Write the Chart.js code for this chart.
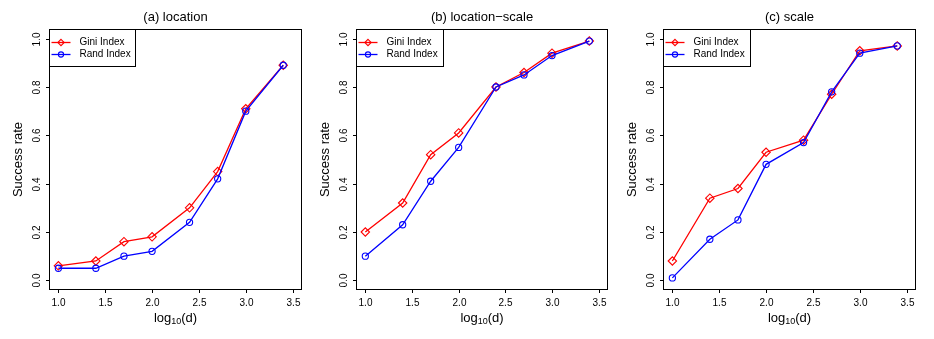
<!DOCTYPE html>
<html>
<head>
<meta charset="utf-8">
<script src="https://cdn.jsdelivr.net/npm/chart.js@4.4.1/dist/chart.umd.min.js"></script>
<style>
  html, body { margin: 0; padding: 0; background: #fff; }
  #wrap { position: relative; width: 934px; height: 339px; background: #fff; }
  canvas { position: absolute; top: 0; }
</style>
</head>
<body>
<div id="wrap">
  <canvas id="c0" width="311" height="339" style="left:0px"></canvas>
  <canvas id="c1" width="311" height="339" style="left:311px"></canvas>
  <canvas id="c2" width="312" height="339" style="left:622px"></canvas>
</div>
<script>
// ---- data ----
const xValues = [1.0, 1.4, 1.7, 2.0, 2.4, 2.7, 3.0, 3.4];
const giniLocation      = [0.06, 0.08, 0.16, 0.18, 0.30, 0.45, 0.71, 0.89];
const randLocation      = [0.05, 0.05, 0.10, 0.12, 0.24, 0.42, 0.70, 0.89];
const giniLocationScale = [0.20, 0.32, 0.52, 0.61, 0.80, 0.86, 0.94, 0.99];
const randLocationScale = [0.10, 0.23, 0.41, 0.55, 0.80, 0.85, 0.93, 0.99];
const giniScale         = [0.08, 0.34, 0.38, 0.53, 0.58, 0.77, 0.95, 0.97];
const randScale         = [0.01, 0.17, 0.25, 0.48, 0.57, 0.78, 0.94, 0.97];
const panelTitles = ['(a) location', '(b) location\u2212scale', '(c) scale'];
const seriesLabels = ['Gini Index', 'Rand Index'];
const xTickValues = [1.0, 1.5, 2.0, 2.5, 3.0, 3.5];
const yTickValues = [0.0, 0.2, 0.4, 0.6, 0.8, 1.0];
const yAxisTitle = 'Success rate';
const xAxisTitleMain = 'log';
const xAxisTitleSub = '10';
const xAxisTitleTail = '(d)';

const panelGini = [giniLocation, giniLocationScale, giniScale];
const panelRand = [randLocation, randLocationScale, randScale];

// ---- layout (pixels) ----
const FONT = '"Liberation Sans", Arial, Helvetica, sans-serif';
const canvasLefts = [0, 311, 622];
const canvasWidths = [311, 311, 312];
const boxes = [
  { left: 49, right: 302 },
  { left: 356, right: 608 },
  { left: 663, right: 916 }
];
const boxTop = 29, boxBottom = 290, H = 339;

const rPanel = {
  id: 'rPanel',
  afterDraw(chart, args, opts) {
    const ctx = chart.ctx;
    const a = chart.chartArea;
    const xs = chart.scales.x, ys = chart.scales.y;
    ctx.save();
    ctx.fillStyle = '#000';
    ctx.strokeStyle = '#000';
    ctx.lineWidth = 1;
    // box
    ctx.strokeRect(Math.round(a.left) + 0.5, Math.round(a.top) + 0.5,
                   Math.round(a.right - a.left) - 1, Math.round(a.bottom - a.top) - 1);
    // x ticks
    ctx.font = '10px ' + FONT;
    ctx.textAlign = 'center';
    ctx.textBaseline = 'middle';
    xTickValues.forEach(v => {
      const px = Math.round(xs.getPixelForValue(v)) + 0.5;
      ctx.beginPath();
      ctx.moveTo(px, a.bottom);
      ctx.lineTo(px, a.bottom + 3);
      ctx.stroke();
      ctx.fillText(v.toFixed(1), px, a.bottom + 13);
    });
    // y ticks (rotated labels)
    yTickValues.forEach(v => {
      const py = Math.round(ys.getPixelForValue(v)) + 0.5;
      ctx.beginPath();
      ctx.moveTo(a.left, py);
      ctx.lineTo(a.left - 3, py);
      ctx.stroke();
      ctx.save();
      ctx.translate(a.left - 12, py);
      ctx.rotate(-Math.PI / 2);
      ctx.fillText(v.toFixed(1), 0, 0);
      ctx.restore();
    });
    // title
    ctx.font = '13px ' + FONT;
    ctx.fillText(opts.title, (a.left + a.right) / 2, 17);
    // y axis title
    ctx.save();
    ctx.translate(a.left - 31, (a.top + a.bottom) / 2);
    ctx.rotate(-Math.PI / 2);
    ctx.fillText(yAxisTitle, 0, 0);
    ctx.restore();
    // x axis title with subscript
    const mainFont = '13px ' + FONT, subFont = '9px ' + FONT;
    ctx.font = mainFont; const w1 = ctx.measureText(xAxisTitleMain).width;
    const w3 = ctx.measureText(xAxisTitleTail).width;
    ctx.font = subFont; const w2 = ctx.measureText(xAxisTitleSub).width;
    let x0 = (a.left + a.right) / 2 - (w1 + w2 + w3) / 2;
    const yT = 318;
    ctx.textAlign = 'left';
    ctx.font = mainFont; ctx.fillText(xAxisTitleMain, x0, yT);
    ctx.font = subFont; ctx.fillText(xAxisTitleSub, x0 + w1, yT + 4);
    ctx.font = mainFont; ctx.fillText(xAxisTitleTail, x0 + w1 + w2, yT);
    // legend
    const lx = Math.round(a.left) + 0.5, ly = Math.round(a.top) + 0.5;
    const lw = opts.legendWidth, lh = 37;
    ctx.fillStyle = '#fff';
    ctx.fillRect(lx, ly, lw, lh);
    ctx.strokeStyle = '#000';
    ctx.lineWidth = 1;
    ctx.strokeRect(lx, ly, lw, lh);
    ctx.font = '10px ' + FONT;
    ctx.textBaseline = 'middle';
    const rows = [chart.data.datasets[0], chart.data.datasets[1]];
    rows.forEach((ds, i) => {
      const yy = ly + 13 + i * 12;
      ctx.strokeStyle = ds.borderColor;
      ctx.lineWidth = 1.3;
      ctx.beginPath();
      ctx.moveTo(lx + 2, yy);
      ctx.lineTo(lx + 21, yy);
      ctx.stroke();
      ctx.lineWidth = 1.1;
      ctx.beginPath();
      const mx = lx + 11.5;
      if (ds.pointStyle === 'rectRot') {
        const r = 3.2;
        ctx.moveTo(mx, yy - r); ctx.lineTo(mx + r, yy); ctx.lineTo(mx, yy + r); ctx.lineTo(mx - r, yy); ctx.closePath();
      } else {
        ctx.arc(mx, yy, 2.6, 0, Math.PI * 2);
      }
      ctx.stroke();
      ctx.fillStyle = '#000';
      ctx.fillText(ds.label, lx + 30, yy);
    });
    ctx.restore();
  }
};

for (let p = 0; p < 3; p++) {
  const cl = canvasLefts[p], cw = canvasWidths[p], b = boxes[p];
  new Chart(document.getElementById('c' + p), {
    type: 'line',
    data: {
      labels: xValues,
      datasets: [
        {
          label: seriesLabels[0],
          data: xValues.map((x, i) => ({ x: x, y: panelGini[p][i] })),
          borderColor: '#ff0000',
          backgroundColor: 'rgba(0,0,0,0)',
          borderWidth: 1.3,
          pointStyle: 'rectRot',
          pointRadius: 4.2,
          pointBorderWidth: 1.1,
          pointBackgroundColor: 'rgba(0,0,0,0)',
          pointBorderColor: '#ff0000',
          tension: 0,
          order: 2
        },
        {
          label: seriesLabels[1],
          data: xValues.map((x, i) => ({ x: x, y: panelRand[p][i] })),
          borderColor: '#0000ff',
          backgroundColor: 'rgba(0,0,0,0)',
          borderWidth: 1.3,
          pointStyle: 'circle',
          pointRadius: 3.1,
          pointBorderWidth: 1.1,
          pointBackgroundColor: 'rgba(0,0,0,0)',
          pointBorderColor: '#0000ff',
          tension: 0,
          order: 1
        }
      ]
    },
    options: {
      responsive: false,
      animation: false,
      devicePixelRatio: 1,
      layout: {
        padding: {
          left: b.left - cl,
          right: cl + cw - b.right,
          top: boxTop,
          bottom: H - boxBottom
        }
      },
      scales: {
        x: { type: 'linear', min: 0.9, max: 3.6, display: false },
        y: { type: 'linear', min: -0.04, max: 1.04, display: false }
      },
      plugins: {
        legend: { display: false },
        title: { display: false },
        tooltip: { enabled: false },
        rPanel: { title: panelTitles[p], legendWidth: [86, 87, 87][p] }
      }
    },
    plugins: [rPanel]
  });
}
</script>
</body>
</html>
